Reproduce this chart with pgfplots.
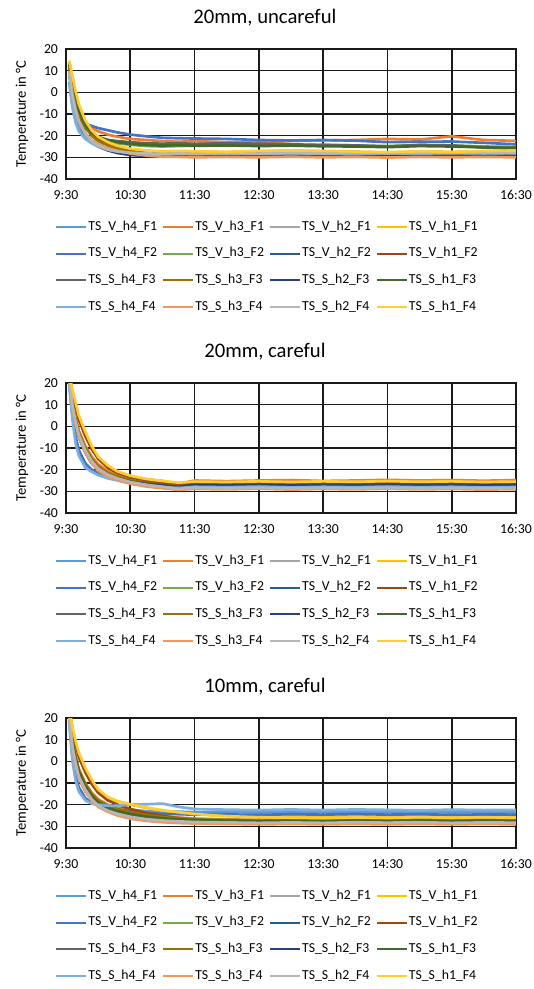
\documentclass[border=0pt]{standalone}
\usepackage{fontspec}
\setmainfont{Carlito}
\usepackage{pgfplots}
\usepackage{pgfplotstable}
\pgfplotsset{compat=1.18}

\definecolor{c1}{HTML}{5B9BD5}
\definecolor{c2}{HTML}{ED7D31}
\definecolor{c3}{HTML}{A5A5A5}
\definecolor{c4}{HTML}{FFC000}
\definecolor{c5}{HTML}{4472C4}
\definecolor{c6}{HTML}{70AD47}
\definecolor{c7}{HTML}{255E91}
\definecolor{c8}{HTML}{9E480E}
\definecolor{c9}{HTML}{636363}
\definecolor{c10}{HTML}{997300}
\definecolor{c11}{HTML}{264478}
\definecolor{c12}{HTML}{43682B}
\definecolor{c13}{HTML}{7CAFDD}
\definecolor{c14}{HTML}{F1975A}
\definecolor{c15}{HTML}{B7B7B7}
\definecolor{c16}{HTML}{FFCD33}
\definecolor{gridc}{HTML}{1A1A1A}

% Panel 1: 20mm, uncareful (one row per series)
\pgfplotstableread{
name c1 c2 c3 c4 c5 c6 c7 c8 c9 c10 c11 c12 c13 c14 c15 c16 c17 c18 c19 c20 c21 c22 c23 c24
t 9.55 9.6 9.65 9.7 9.8 9.9 10.0 10.15 10.3 10.5 10.75 11.0 11.25 11.5 12.0 12.5 13.0 13.5 14.0 14.5 15.0 15.5 16.0 16.5
s1 5 -6 -13 -17 -21 -23 -24.5 -26 -27 -28 -28.5 -28.8 -28.6 -28.8 -28.5 -28.7 -28.4 -28.6 -28.8 -28.4 -28.6 -28.3 -28.5 -28.3
s2 14 6 -2 -8 -14 -16.5 -18 -19.5 -20.5 -21.5 -22 -22.5 -22.8 -22.5 -23 -23.2 -22.5 -22.2 -22 -21.5 -21.8 -20.3 -22 -22.4
s3 8 -2 -9 -14 -19.5 -22.5 -24.5 -26.5 -27.5 -28.3 -28.8 -29 -28.8 -29 -28.7 -28.9 -28.6 -28.8 -28.5 -28.7 -28.4 -28.6 -28.3 -28.5
s4 14.5 7 0 -6 -13.5 -18 -21 -23.5 -25 -26.3 -27.2 -27.6 -27.4 -27.6 -27.8 -27.3 -27 -27.3 -27.6 -27.9 -27.5 -27.7 -27.4 -27
s5 12 2 -6 -11 -14.5 -15.5 -16.5 -17.5 -18.5 -19.5 -20.3 -21 -21.2 -21.3 -21.5 -22 -22.2 -22 -22.3 -23 -22.8 -22.7 -23.3 -24
s6 13 4 -3 -9 -15 -19 -21 -22.5 -23.5 -24.2 -24.8 -25 -24.8 -24.6 -24.5 -24.3 -24.5 -24.2 -24.5 -24.8 -24.3 -24.5 -25 -25.2
s7 10 0 -7 -12.5 -19 -22.5 -24.5 -26.5 -27.8 -28.7 -29.2 -29.4 -29.2 -29.4 -29.1 -29.3 -29 -29.2 -29 -29.3 -29 -29.2 -29.1 -29.3
s8 13.5 6 -1 -7 -14 -18.5 -21.5 -24 -25.8 -27.2 -28.3 -28.8 -29 -29.2 -29.4 -29.2 -29.5 -29.3 -29.5 -29.4 -29.6 -29.4 -29.6 -29.5
s9 12 3 -4 -10 -16.5 -19.5 -21 -22 -22.5 -23 -23.5 -23.7 -23.5 -23.8 -23.5 -23.7 -24 -24.3 -24.5 -25 -24.3 -24.5 -25.5 -26
s10 12.5 4 -3 -9 -16 -20 -22.5 -24.5 -26 -27.2 -28 -28.4 -28.2 -28.5 -28.3 -28.5 -28.4 -28.6 -28.3 -28.5 -28.4 -28.6 -28.4 -28.6
s11 9 -1 -8 -13.5 -20 -23 -25 -26.8 -28 -28.9 -29.3 -29.5 -29.3 -29.5 -29.2 -29.5 -29.3 -29.5 -29.2 -29.4 -29.2 -29.4 -29.3 -29.4
s12 13 5 -2 -8 -15 -18.5 -20.5 -22 -23 -23.8 -24.3 -24.6 -24.4 -24.7 -24.5 -24.8 -24.6 -24.9 -25 -25.3 -24.8 -25 -25.4 -25.6
s13 4 -7 -14 -18 -21.5 -23.5 -25 -26.5 -27.3 -28 -28.3 -28.5 -28.3 -28.5 -28.2 -28.4 -28.1 -28.3 -28.5 -28.1 -28.3 -28 -28.2 -28
s14 10 -1 -8 -13 -19 -22 -24 -25.8 -27 -28.2 -29.2 -29.7 -29.8 -30 -29.8 -30 -29.7 -30 -29.8 -30.1 -29.8 -30 -29.8 -30
s15 9 -1.5 -8.5 -13.5 -19.5 -22.5 -24.5 -26.3 -27.3 -27.9 -28.2 -28.4 -28.2 -28.4 -28.1 -28.3 -28 -28.2 -27.9 -28.1 -27.8 -28 -27.8 -28
s16 14.5 7.5 0.5 -5.5 -13 -17.5 -20.5 -23 -24.7 -26 -26.8 -27.2 -27 -27.2 -27.4 -27 -26.8 -27 -27.3 -27.6 -27.2 -27.4 -27.1 -26.8
}\rawA

% Panel 2: 20mm, careful
\pgfplotstableread{
name c1 c2 c3 c4 c5 c6 c7 c8 c9 c10 c11 c12 c13 c14 c15 c16 c17 c18 c19 c20 c21 c22 c23 c24
t 9.55 9.6 9.65 9.7 9.8 9.9 10.0 10.15 10.3 10.5 10.75 11.0 11.25 11.5 12.0 12.5 13.0 13.5 14.0 14.5 15.0 15.5 16.0 16.5
s1 20 5 -6 -12 -18 -20.5 -22 -23.5 -24.5 -25.8 -26.8 -27.5 -28 -27.3 -27.6 -27.3 -27.6 -27.4 -27.7 -27.3 -27.5 -27.8 -27.4 -27.6
s2 23 12 4 -2 -9 -14 -17.5 -20.5 -22 -23.5 -24.5 -25.2 -26.5 -25 -25.3 -25 -24.8 -25.2 -25 -24.7 -25 -24.8 -25.1 -24.8
s3 23 10 2 -4 -11 -16 -19.5 -22.5 -24 -25.5 -26.8 -27.5 -28.3 -27.8 -28 -27.8 -28.1 -27.9 -28.2 -27.8 -28 -28.2 -27.9 -28.1
s4 24 16 10 4 -3.5 -10 -14.5 -18.5 -21 -23 -24.5 -25.5 -26.8 -26 -26.3 -25.8 -26.1 -25.8 -26.2 -25.9 -26.1 -25.8 -26.2 -26
s5 20 6 -5 -11 -17 -20 -21.5 -23 -24 -25 -26 -26.7 -28 -26.3 -26.6 -26.3 -26.7 -26.4 -26.8 -26.3 -26.6 -26.4 -26.7 -26.5
s6 22 10 2 -4 -11 -16 -19.5 -22.5 -24 -25.8 -27 -28 -28.8 -28.4 -28.6 -28.3 -28.7 -28.4 -28.6 -28.3 -28.6 -28.4 -28.7 -28.5
s7 22 10 2 -4 -11 -16 -19.5 -22 -23.5 -25 -26.2 -27 -27.8 -27 -27.3 -26.8 -27.2 -26.9 -27.2 -26.8 -27.1 -26.9 -27.2 -27
s8 24 15 9 3 -4.5 -10.5 -15 -19 -21.5 -23.5 -25 -25.8 -26.8 -26 -26.2 -25.9 -26.3 -26 -26.2 -25.9 -26.1 -25.8 -26.1 -26
s9 22 9 1 -5 -12 -17 -20 -22.8 -24.3 -25.8 -27 -27.8 -28.5 -27.9 -28.1 -27.8 -28.2 -27.9 -28.1 -27.8 -28.1 -27.9 -28.2 -28
s10 23 11 3 -3 -10 -15 -18.5 -21.5 -23.2 -24.8 -26.2 -27 -27.8 -27.3 -27.6 -27.3 -27.7 -27.4 -27.6 -27.3 -27.6 -27.4 -27.7 -27.5
s11 22 9 1 -5 -12 -17 -20 -22.5 -24 -25.5 -26.6 -27.2 -28 -27 -27.2 -26.9 -27.3 -27 -27.2 -26.8 -27.1 -26.9 -27.2 -27
s12 22 10 2 -4 -11 -16 -19.5 -22.5 -24 -25.7 -27 -28 -28.8 -28.3 -28.6 -28.4 -28.7 -28.4 -28.6 -28.3 -28.6 -28.4 -28.6 -28.5
s13 19 3 -8 -13.5 -19 -21 -22.5 -24 -25 -26.3 -27.3 -28 -28.5 -27.9 -28.1 -27.8 -28.2 -27.9 -28.1 -27.8 -28.1 -27.9 -28.2 -28
s14 22 9 1 -5 -12 -17 -20.5 -23 -24.8 -26.5 -27.8 -28.6 -29.3 -28.9 -29.1 -28.8 -29.2 -28.9 -29.1 -28.8 -29.1 -28.9 -29.2 -29
s15 22 10 2 -4 -11 -16 -19.5 -22.3 -24 -25.7 -27 -27.9 -28.8 -28.3 -28.6 -28.3 -28.7 -28.4 -28.6 -28.3 -28.6 -28.4 -28.6 -28.5
s16 24 17 11 5 -2.5 -9 -14 -18 -20.8 -22.8 -24.3 -25.2 -26 -25.5 -25.7 -25.4 -25.7 -25.4 -25.6 -25.3 -25.6 -25.4 -25.7 -25.5
}\rawB

% Panel 3: 10mm, careful
\pgfplotstableread{
name c1 c2 c3 c4 c5 c6 c7 c8 c9 c10 c11 c12 c13 c14 c15 c16 c17 c18 c19 c20 c21 c22 c23 c24
t 9.55 9.6 9.65 9.7 9.8 9.9 10.0 10.15 10.3 10.5 10.75 11.0 11.25 11.5 12.0 12.5 13.0 13.5 14.0 14.5 15.0 15.5 16.0 16.5
s1 19 2 -8 -13 -17.5 -19 -20 -21 -21.5 -22.3 -23 -23.4 -23.2 -23.5 -23.3 -23.6 -23.3 -23.5 -23.2 -23.5 -23.3 -23.6 -23.4 -23.6
s2 23 10 2 -3.5 -10 -14.5 -17.5 -20 -21.5 -23 -24.3 -25.2 -25.9 -26.4 -26.8 -27 -26.8 -27.1 -26.9 -27.1 -26.8 -27 -26.9 -27.1
s3 22 8 0 -6 -12.5 -17 -20 -22.3 -23.8 -25.2 -26.3 -27 -27.4 -27.7 -27.9 -28.1 -27.9 -28.1 -27.8 -28 -27.8 -28.1 -27.9 -28
s4 24 15 8.5 3 -4 -9.5 -14 -17 -18.5 -20 -21.5 -22.8 -23.8 -24.5 -25.2 -25.5 -25.3 -25.6 -25.4 -25.6 -25.3 -25.5 -25.4 -25.6
s5 19 3 -7 -12 -17 -19 -20.5 -21.5 -22.3 -23 -23.8 -24.2 -24.4 -24.6 -24.5 -24.7 -24.4 -24.6 -24.3 -24.6 -24.4 -24.7 -24.5 -24.6
s6 22 9 1 -5 -11 -15.5 -18.5 -21 -22.5 -23.8 -25 -25.8 -26.3 -26.7 -27 -27.2 -27 -27.3 -27 -27.2 -26.9 -27.1 -27 -27.2
s7 22 8 0 -6 -12.5 -17 -20.3 -22.7 -24.3 -25.7 -26.8 -27.5 -27.9 -28.2 -28.4 -28.6 -28.4 -28.6 -28.3 -28.5 -28.3 -28.6 -28.4 -28.5
s8 24 15 8 2 -5 -10.5 -14.5 -18 -20 -22 -23.8 -25.2 -26.3 -27 -27.8 -28.2 -28.4 -28.5 -28.3 -28.6 -28.4 -28.6 -28.4 -28.5
s9 22 8 0 -6 -12.5 -17 -20 -22.3 -23.8 -25 -26 -26.7 -27 -27.3 -27.5 -27.6 -27.4 -27.6 -27.3 -27.6 -27.4 -27.6 -27.3 -27.5
s10 23 10 2 -4 -10.5 -15 -18 -20.5 -22 -23.5 -24.8 -25.7 -26.3 -26.8 -27.2 -27.5 -27.3 -27.6 -27.4 -27.6 -27.3 -27.5 -27.4 -27.6
s11 21 7 -1 -7 -13 -17.5 -20.5 -23 -24.5 -25.9 -27 -27.6 -28 -28.3 -28.5 -28.6 -28.4 -28.6 -28.4 -28.6 -28.3 -28.5 -28.4 -28.6
s12 22 9 1 -5 -11.5 -16 -19 -21.5 -23 -24.3 -25.5 -26.3 -26.8 -27.1 -27.4 -27.6 -27.4 -27.6 -27.3 -27.5 -27.3 -27.6 -27.4 -27.5
s13 18 0 -9 -14 -18 -19.5 -20 -20.5 -20.5 -20 -19.8 -19.5 -21 -22 -22.3 -22.5 -22.2 -22.5 -22.2 -22.4 -22.6 -22.3 -22.5 -22.4
s14 21 6 -2 -8 -14 -18 -21 -23.3 -25 -26.5 -27.5 -28.1 -28.5 -28.7 -28.9 -29.1 -28.9 -29.1 -28.9 -29.1 -28.9 -29.1 -28.9 -29.1
s15 21 7 -1 -7 -13 -17.5 -20.5 -22.8 -24.2 -25.6 -26.7 -27.3 -27.7 -28 -28.2 -28.4 -28.2 -28.4 -28.1 -28.3 -28.1 -28.4 -28.2 -28.3
s16 24 16 9.5 4 -3 -8.5 -13 -16.5 -18.3 -19.8 -21.3 -22.5 -23.5 -24.3 -25.3 -25.8 -26 -26.2 -25.9 -26.1 -25.8 -26 -25.8 -26
}\rawC

\pgfplotstabletranspose[colnames from=name]\tabA\rawA
\pgfplotstabletranspose[colnames from=name]\tabB\rawB
\pgfplotstabletranspose[colnames from=name]\tabC\rawC

\newcommand{\plotall}[1]{\pgfplotsinvokeforeach{1,...,16}{\addplot table[x=t,y=s##1]{#1};}}

\pgfplotsset{
  panel/.style={
    scale only axis, width=337.5pt, height=97.5pt,
    xmin=9.5, xmax=16.5, ymin=-40, ymax=20,
    xtick={9.5,10.5,11.5,12.5,13.5,14.5,15.5,16.5},
    xticklabels={9:30,10:30,11:30,12:30,13:30,14:30,15:30,16:30},
    ytick={-40,-30,-20,-10,0,10,20},
    yticklabels={-40,-30,-20,-10,0,10,20},
    major tick length=0pt,
    grid=major,
    grid style={gridc, line width=1.2pt},
    axis line style={gridc, line width=1.2pt},
    tick label style={font=\fontsize{10.3}{12}\selectfont},
    xticklabel style={yshift=-5pt},
    yticklabel style={xshift=-2.5pt},
    ylabel={Temperature in °C},
    ylabel style={font=\fontsize{11}{13}\selectfont, at={(axis description cs:-0.098,0.5)}, anchor=center},
    title style={font=\fontsize{15.5}{18}\selectfont, at={(axis description cs:0.442,1)}, anchor=center, yshift=17.25pt},
    cycle list={{c1},{c2},{c3},{c4},{c5},{c6},{c7},{c8},{c9},{c10},{c11},{c12},{c13},{c14},{c15},{c16}},
    every axis plot/.append style={line width=2pt, line join=round, mark=none},
    legend columns=4,
    legend cell align=left,
    legend image code/.code={\draw[##1, line width=1.6pt] (0pt,0pt) -- (22.5pt,0pt);},
    legend style={at={(axis description cs:0.4467,0)}, anchor=north, yshift=-30pt,
      draw=none, fill=none, inner sep=0pt, font=\fontsize{10.3}{12}\selectfont,
      column sep=0pt, row sep=8.5pt,
      /tikz/every even column/.append style={column sep=3pt},
      nodes={inner sep=0.75pt, text height=7.5pt, text depth=2.5pt}},
    legend entries={TS\_V\_h4\_F1,TS\_V\_h3\_F1,TS\_V\_h2\_F1,TS\_V\_h1\_F1,
      TS\_V\_h4\_F2,TS\_V\_h3\_F2,TS\_V\_h2\_F2,TS\_V\_h1\_F2,
      TS\_S\_h4\_F3,TS\_S\_h3\_F3,TS\_S\_h2\_F3,TS\_S\_h1\_F3,
      TS\_S\_h4\_F4,TS\_S\_h3\_F4,TS\_S\_h2\_F4,TS\_S\_h1\_F4},
  }
}

\begin{document}
\begin{tikzpicture}
\useasboundingbox (0pt,0pt) rectangle (400.5pt,-741.75pt);
\begin{axis}[panel, at={(49.5pt,-134.25pt)}, anchor=south west, title={20mm, uncareful}]
\plotall{\tabA}
\end{axis}
\begin{axis}[panel, at={(49.5pt,-384.75pt)}, anchor=south west, title={20mm, careful}]
\plotall{\tabB}
\end{axis}
\begin{axis}[panel, at={(49.5pt,-636pt)}, anchor=south west, title={10mm, careful}]
\plotall{\tabC}
\end{axis}
\end{tikzpicture}
\end{document}
